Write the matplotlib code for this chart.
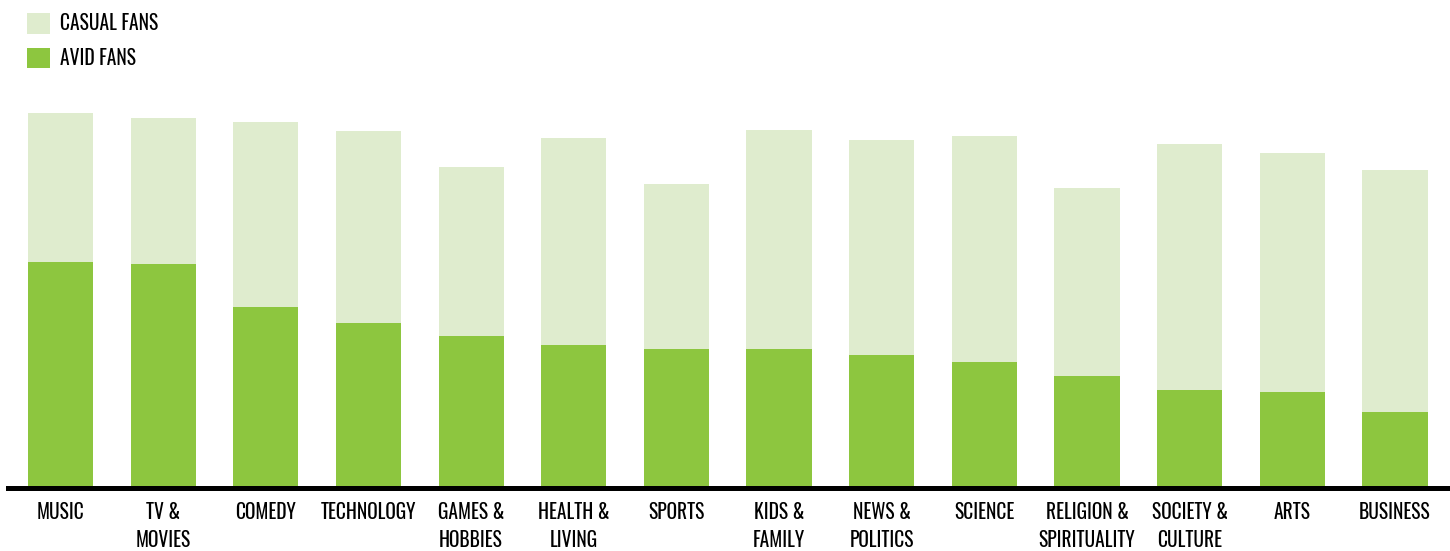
import matplotlib
matplotlib.use("Agg")
import matplotlib.pyplot as plt
from matplotlib import font_manager as fm
from matplotlib.patches import Patch

categories = ["MUSIC", "TV &\nMOVIES", "COMEDY", "TECHNOLOGY", "GAMES &\nHOBBIES",
              "HEALTH &\nLIVING", "SPORTS", "KIDS &\nFAMILY", "NEWS &\nPOLITICS", "SCIENCE",
              "RELIGION &\nSPIRITUALITY", "SOCIETY &\nCULTURE", "ARTS", "BUSINESS"]
avid = [45.2, 44.8, 36.2, 33.0, 30.4, 28.6, 27.8, 27.8, 26.6, 25.2, 22.4, 19.6, 19.2, 15.2]
casual = [29.8, 29.2, 37.0, 38.4, 33.8, 41.4, 33.0, 43.8, 43.0, 45.2, 37.6, 49.2, 47.8, 48.4]
legend_labels = ["CASUAL FANS", "AVID FANS"]

AVID_C = "#8DC63F"
CASUAL_C = "#DFECCE"

avail = set(f.name for f in fm.fontManager.ttflist)
FAM = next((n for n in ["Oswald", "Archivo Narrow", "Asap Condensed"] if n in avail), "DejaVu Sans")
plt.rcParams['font.family'] = [FAM, 'DejaVu Sans']

W, H = 1450, 551
fig = plt.figure(figsize=(W/100, H/100), dpi=100)
ax = fig.add_axes([8/W, (H-488)/H, 1 - 8/W, 388/H])

x = list(range(len(categories)))
ax.bar(x, avid, width=0.635, color=AVID_C, zorder=2)
ax.bar(x, casual, bottom=avid, width=0.635, color=CASUAL_C, zorder=2)

ax.set_xlim((8-60.5)/102.65, (1450-60.5)/102.65)
ax.set_ylim(0, 77.6)
for s in ["top", "right", "left"]:
    ax.spines[s].set_visible(False)
ax.spines["bottom"].set_linewidth(3.6)
ax.spines["bottom"].set_color("black")
ax.set_yticks([])
ax.set_xticks(x)
ax.set_xticklabels(categories, fontsize=14, linespacing=1.45, va="top")
ax.tick_params(axis="x", length=0, pad=10)

handles = [Patch(facecolor=CASUAL_C, edgecolor="none", label=legend_labels[0]),
           Patch(facecolor=AVID_C, edgecolor="none", label=legend_labels[1])]
fig.legend(handles=handles, loc="upper left", bbox_to_anchor=(27/W, 1 - 13/H),
           frameon=False, prop={"size": 14},
           handlelength=1.18, handleheight=1.25,
           handletextpad=0.5, labelspacing=0.72, borderpad=0, borderaxespad=0)

fig.savefig("out.png", dpi=100)
